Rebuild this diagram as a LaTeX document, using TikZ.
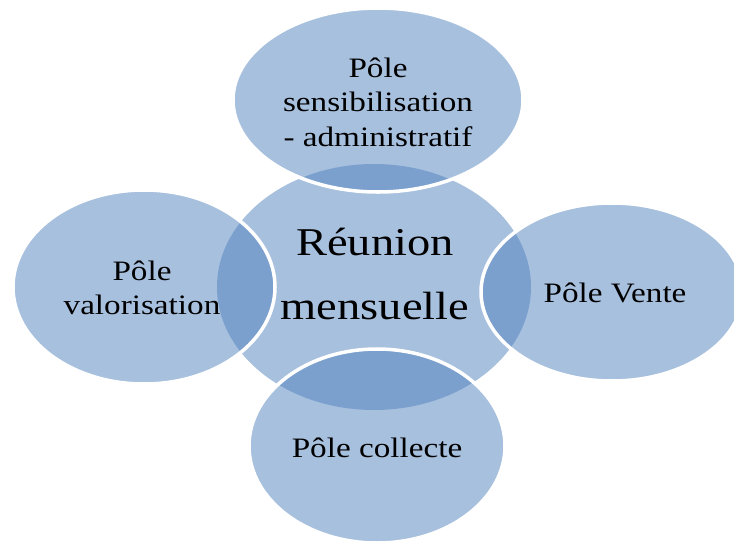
\documentclass[tikz,border=0pt]{standalone}
\usepackage{fontspec}
\setmainfont{Liberation Serif}[FakeStretch=1.18]
\definecolor{poleblue}{HTML}{A7C0DE}
\definecolor{overlapblue}{HTML}{7BA0CD}
\tikzset{
  ring/.style={white,line width=2.5pt},
  poletext/.style={align=center,font=\fontsize{20}{24.5}\selectfont},
  bigtext/.style={align=center,font=\fontsize{28}{45}\selectfont}
}
\begin{document}
\begin{tikzpicture}[x=0.025cm,y=-0.025cm]
\useasboundingbox (0,0) rectangle (734,546);
% centres of the ellipses
\coordinate (reunion) at (374,287);
\coordinate (sensib) at (378,100);
\coordinate (valor) at (144,287);
\coordinate (vente) at (612,292);
\coordinate (collecte) at (377,446);
\fill[poleblue] (reunion) ellipse [x radius=157,y radius=123];
\foreach \c/\rx/\ry in {sensib/145/92,valor/131/97,vente/131/89,collecte/128/97}{
  \fill[poleblue] (\c) ellipse [x radius=\rx,y radius=\ry];
  \begin{scope}
    \clip (\c) ellipse [x radius=\rx,y radius=\ry];
    \fill[overlapblue] (reunion) ellipse [x radius=157,y radius=123];
  \end{scope}
  \draw[ring] (\c) ellipse [x radius=\rx,y radius=\ry];
}
\node[bigtext] (reuniontext) at (375,274) {Réunion\\mensuelle};
\node[poletext] (sensibtext) at (378,102) {Pôle\\sensibilisation\\- administratif};
\node[poletext] (valortext) at (142,288) {Pôle\\valorisation};
\node[poletext] (ventetext) at (615,293) {Pôle Vente};
\node[poletext] (collectetext) at (377,448) {Pôle collecte};
\end{tikzpicture}
\end{document}
